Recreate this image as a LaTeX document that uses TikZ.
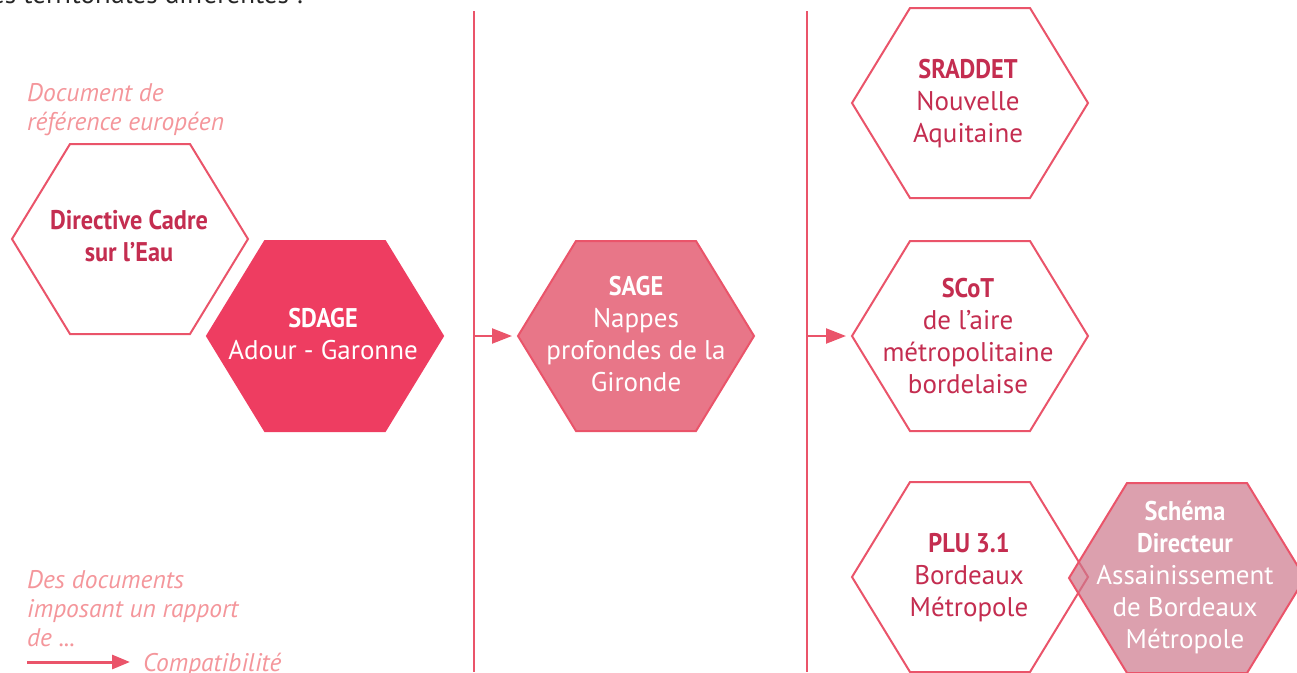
\documentclass[tikz,border=0pt]{standalone}
\usepackage{fontspec}
\setmainfont{PT Sans}
\newfontfamily\condfont{PT Sans}[FakeStretch=0.9]
\usetikzlibrary{arrows.meta}
\definecolor{lred}{RGB}{234,84,106}
\definecolor{dtext}{RGB}{196,45,80}
\definecolor{sdagefill}{RGB}{238,61,97}
\definecolor{sagefill}{RGB}{232,118,136}
\definecolor{schemafill}{RGB}{205,119,139}
\definecolor{note}{RGB}{244,150,155}
\newcommand\hexagon[4]{%
  \draw[#4] (#2-118,#3) coordinate (#1-w) -- (#2-60,#3-95) -- (#2+60,#3-95)
    -- (#2+118,#3) coordinate (#1-e) -- (#2+60,#3+95) -- (#2-60,#3+95) -- cycle;}
\newcommand\ttl[1]{{\condfont\bfseries\fontsize{27}{32}\selectfont #1}}
\tikzset{
  hexline/.style={draw=lred, line width=2pt, line join=miter},
  emptyhex/.style={hexline, fill=white},
  lbl/.style={align=center, inner sep=0pt, font=\fontsize{27}{32}\selectfont},
  darklbl/.style={lbl, text=dtext},
  whitelbl/.style={lbl, text=white},
  notelbl/.style={align=left, inner sep=0pt, text=note, font=\fontsize{25.5}{29}\selectfont\itshape},
  sep/.style={draw=lred, line width=2.6pt},
  arr/.style={draw=lred, line width=2.2pt, -{Triangle[length=20pt,width=15pt]}, shorten >=6pt},
}
\begin{document}
\begin{tikzpicture}[x=1pt,y=-1pt]
\useasboundingbox (0,0) rectangle (1297,672);
% cut-off heading
\node[anchor=base west, inner sep=0pt, text=black!85, font=\fontsize{27}{32}\selectfont] (head) at (-9,3) {es territoriales différentes :};
% separators
\coordinate (v1t) at (474,11); \coordinate (v1b) at (474,672);
\coordinate (v2t) at (807,11); \coordinate (v2b) at (807,672);
\draw[sep] (v1t) -- (v1b);
\draw[sep] (v2t) -- (v2b);
\coordinate (v1a) at (474,336);
\coordinate (v2a) at (807,336);
% hexagons
\hexagon{dce}{130}{239}{emptyhex}
\hexagon{sdage}{325}{336}{hexline, draw=sdagefill, fill=sdagefill}
\hexagon{sage}{636}{336}{hexline, fill=sagefill}
\hexagon{sraddet}{970}{103}{emptyhex}
\hexagon{scot}{970}{336}{emptyhex}
\hexagon{plu}{970}{577}{emptyhex}
\hexagon{sda}{1187}{578}{hexline, fill=schemafill, fill opacity=0.7}
% labels
\node[darklbl] (tdce) at (129,236) {\ttl{Directive Cadre}\\\ttl{sur l’Eau}};
\node[whitelbl] (tsdage) at (323,334) {\ttl{SDAGE}\\Adour - Garonne};
\node[whitelbl] (tsage) at (636,334) {\ttl{SAGE}\\Nappes\\profondes de la\\Gironde};
\node[darklbl] (tsraddet) at (968,104) {\ttl{SRADDET}\\Nouvelle\\Aquitaine};
\node[darklbl] (tscot) at (968,336) {\ttl{SCoT}\\de l’aire\\métropolitaine\\bordelaise};
\node[darklbl] (tplu) at (969,578) {\ttl{PLU 3.1}\\Bordeaux\\Métropole};
\node[whitelbl] (tsda) at (1185,577) {\ttl{Schéma}\\\ttl{Directeur}\\Assainissement\\de Bordeaux\\Métropole};
% notes
\node[notelbl, anchor=north west] (ref) at (27,83) {Document de\\référence européen};
\node[notelbl, anchor=north west] (leg) at (27,570) {Des documents\\imposant un rapport\\de ...};
\coordinate (la) at (27,662);
\coordinate (lb) at (130,662);
\draw[draw=lred, line width=3pt, -{Triangle[length=18pt,width=14pt]}] (la) -- (lb);
\node[notelbl, anchor=base west] (comp) at (143,671) {Compatibilité};
% arrows
\draw[arr] (v1a) -- (sage-w);
\draw[arr] (v2a) -- (scot-w);
\end{tikzpicture}
\end{document}
